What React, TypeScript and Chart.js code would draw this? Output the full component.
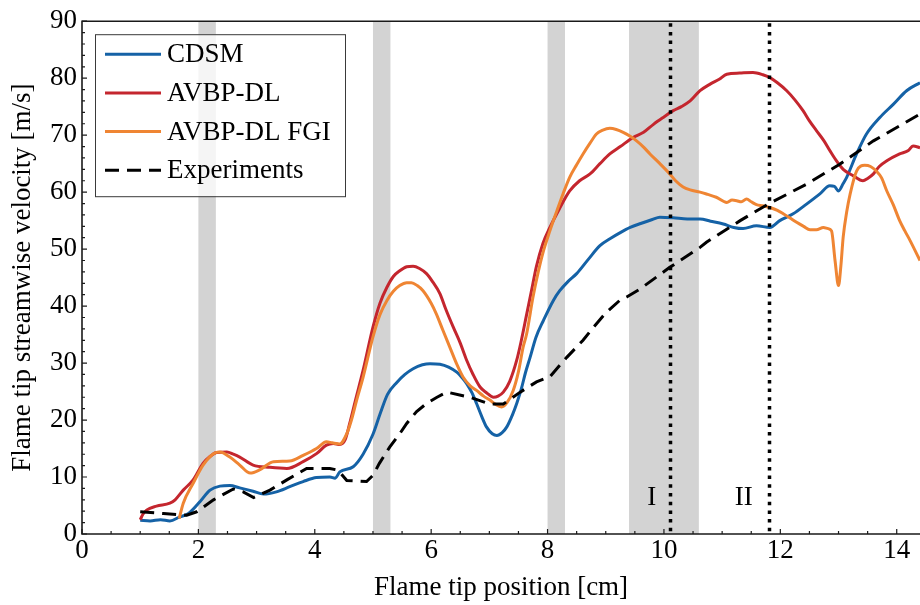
import { useEffect, useRef } from "react";
import { Chart, registerables } from "chart.js";

Chart.register(...registerables);

// ---------- data ----------
const seriesLabels = ["CDSM", "AVBP-DL", "AVBP-DL FGI", "Experiments"];

const cdsmX = [1.0, 1.17, 1.35, 1.51, 1.68, 1.83, 2.03, 2.2, 2.37, 2.54, 2.71, 2.94, 3.12, 3.34, 3.57, 3.8, 4.03, 4.26, 4.35, 4.43, 4.66, 4.83, 5.0, 5.12, 5.25, 5.41, 5.55, 5.69, 5.85, 5.98, 6.15, 6.3, 6.44, 6.55, 6.61, 6.7, 6.78, 6.87, 6.95, 7.05, 7.13, 7.22, 7.3, 7.4, 7.47, 7.55, 7.62, 7.7, 7.8, 7.93, 8.1, 8.21, 8.35, 8.5, 8.7, 8.9, 9.1, 9.25, 9.42, 9.6, 9.8, 9.93, 10.16, 10.4, 10.62, 10.8, 11.02, 11.2, 11.36, 11.59, 11.82, 11.99, 12.22, 12.45, 12.68, 12.85, 12.93, 13.0, 13.08, 13.14, 13.31, 13.48, 13.71, 13.94, 14.17, 14.4];
const cdsmY = [2.4, 2.3, 2.5, 2.3, 3.0, 3.6, 5.7, 7.7, 8.4, 8.5, 8.1, 7.5, 7.0, 7.4, 8.3, 9.2, 9.9, 10.0, 9.8, 10.9, 11.8, 14.0, 17.5, 21.0, 24.5, 26.6, 28.0, 29.0, 29.7, 29.9, 29.8, 29.3, 28.4, 27.2, 26.4, 24.8, 22.9, 20.6, 18.8, 17.6, 17.3, 17.8, 18.8, 21.0, 22.9, 25.5, 28.3, 31.0, 34.5, 37.5, 41.0, 42.7, 44.3, 45.7, 48.2, 50.6, 52.0, 52.9, 53.8, 54.5, 55.2, 55.6, 55.5, 55.3, 55.3, 54.9, 54.4, 53.8, 53.6, 54.1, 53.8, 55.0, 56.2, 57.9, 59.7, 61.1, 61.0, 60.2, 61.5, 62.6, 66.7, 70.2, 73.1, 75.4, 77.8, 79.2];

const avbpX = [1.0, 1.05, 1.11, 1.28, 1.51, 1.6, 1.74, 1.91, 2.08, 2.2, 2.31, 2.49, 2.6, 2.71, 2.94, 3.23, 3.52, 3.8, 4.03, 4.2, 4.32, 4.43, 4.52, 4.6, 4.7, 4.83, 5.0, 5.12, 5.24, 5.35, 5.46, 5.58, 5.69, 5.8, 5.92, 6.03, 6.15, 6.25, 6.38, 6.5, 6.61, 6.72, 6.84, 6.95, 7.07, 7.15, 7.24, 7.35, 7.47, 7.55, 7.64, 7.72, 7.81, 7.92, 8.04, 8.2, 8.38, 8.55, 8.73, 8.9, 9.07, 9.25, 9.47, 9.65, 9.82, 10.0, 10.16, 10.3, 10.45, 10.62, 10.8, 10.95, 11.08, 11.3, 11.53, 11.7, 11.82, 11.95, 12.11, 12.25, 12.39, 12.5, 12.62, 12.75, 12.85, 12.95, 13.08, 13.25, 13.42, 13.5, 13.6, 13.7, 13.83, 14.05, 14.2, 14.28, 14.4];
const avbpY = [2.5, 3.5, 4.2, 4.9, 5.4, 6.0, 7.7, 9.5, 12.4, 13.6, 14.3, 14.4, 14.0, 13.5, 12.1, 11.7, 11.5, 12.7, 14.1, 15.6, 15.9, 15.7, 16.5, 19.4, 23.5, 28.7, 36.3, 40.5, 43.3, 45.2, 46.2, 46.9, 47.0, 46.6, 45.7, 44.2, 42.2, 39.5, 36.3, 33.5, 30.5, 28.0, 25.8, 24.8, 24.0, 24.2, 24.9, 26.8, 30.5, 34.0, 38.5, 42.5, 47.0, 51.0, 53.8, 57.0, 60.2, 62.0, 63.2, 65.0, 66.7, 68.0, 69.6, 70.5, 71.9, 73.2, 74.3, 75.0, 76.0, 77.8, 79.0, 79.8, 80.7, 80.9, 81.0, 80.6, 80.1, 79.2, 77.8, 76.2, 74.3, 72.5, 70.8, 69.0, 67.3, 65.7, 64.0, 62.9, 62.0, 62.4, 63.2, 64.5, 65.5, 66.7, 67.3, 68.1, 67.8];

const fgiX = [1.67, 1.74, 1.91, 2.08, 2.26, 2.37, 2.54, 2.71, 2.89, 3.06, 3.29, 3.57, 3.8, 4.03, 4.2, 4.3, 4.43, 4.55, 4.63, 4.72, 4.83, 5.0, 5.12, 5.24, 5.35, 5.46, 5.58, 5.66, 5.76, 5.86, 6.0, 6.09, 6.2, 6.32, 6.44, 6.55, 6.67, 6.78, 6.9, 7.01, 7.1, 7.21, 7.3, 7.41, 7.5, 7.58, 7.64, 7.75, 7.84, 7.93, 8.04, 8.16, 8.27, 8.38, 8.5, 8.61, 8.73, 8.84, 8.95, 9.07, 9.18, 9.3, 9.42, 9.53, 9.65, 9.76, 9.93, 10.1, 10.2, 10.33, 10.45, 10.62, 10.75, 10.9, 11.08, 11.17, 11.25, 11.33, 11.42, 11.5, 11.59, 11.7, 11.82, 11.95, 12.05, 12.16, 12.28, 12.4, 12.51, 12.62, 12.74, 12.82, 12.88, 12.94, 13.0, 13.04, 13.08, 13.14, 13.2, 13.31, 13.45, 13.55, 13.65, 13.74, 13.83, 13.94, 14.05, 14.14, 14.23, 14.4];
const fgiY = [2.7, 5.4, 8.9, 12.1, 14.1, 14.4, 13.5, 12.1, 10.7, 11.3, 12.7, 12.8, 13.8, 15.0, 16.2, 16.0, 15.8, 17.6, 20.0, 23.5, 27.5, 34.6, 38.5, 41.0, 42.6, 43.6, 44.1, 44.1, 43.6, 42.7, 40.5, 38.6, 35.8, 32.8, 29.8, 27.5, 26.0, 25.2, 24.2, 23.5, 22.8, 22.3, 23.0, 25.2, 28.5, 32.8, 35.1, 41.6, 46.0, 49.7, 53.2, 56.7, 59.8, 62.6, 64.8, 66.7, 68.6, 70.2, 70.9, 71.2, 71.0, 70.5, 69.8, 69.0, 67.9, 66.7, 65.0, 63.2, 62.0, 60.9, 60.4, 60.0, 59.6, 59.1, 58.2, 58.6, 58.5, 58.3, 58.8, 58.3, 57.8, 57.6, 57.3, 56.8, 56.2, 55.5, 54.7, 54.0, 53.4, 53.4, 53.8, 53.6, 53.2, 48.0, 43.6, 47.0, 52.1, 56.5, 59.7, 63.7, 64.7, 64.5, 63.7, 62.5, 60.2, 57.8, 55.0, 53.2, 51.5, 48.0];

const expX = [1.0, 1.4, 1.8, 1.97, 2.26, 2.6, 2.77, 2.95, 3.23, 3.52, 3.86, 4.26, 4.4, 4.55, 4.89, 5.0, 5.11, 5.29, 5.46, 5.58, 5.75, 5.92, 6.1, 6.27, 6.49, 6.67, 7.01, 7.24, 7.53, 7.81, 8.04, 8.21, 8.33, 8.61, 8.79, 9.0, 9.24, 9.36, 9.59, 10.1, 10.62, 10.73, 11.31, 11.79, 12.45, 13.02, 13.6, 14.4];
const expY = [3.9, 3.6, 3.3, 3.9, 6.0, 7.9, 7.4, 6.4, 7.7, 9.5, 11.5, 11.5, 11.2, 9.4, 9.2, 10.3, 12.4, 15.3, 17.6, 19.4, 21.5, 22.9, 24.0, 24.9, 24.4, 24.0, 22.8, 22.8, 24.9, 26.7, 27.6, 29.6, 31.0, 34.0, 36.3, 38.8, 41.0, 41.6, 43.0, 46.8, 50.3, 51.2, 55.0, 57.9, 61.4, 64.9, 69.0, 73.7];

const xTickValues = [0, 2, 4, 6, 8, 10, 12, 14];
const yTickValues = [0, 10, 20, 30, 40, 50, 60, 70, 80, 90];

// shaded bands [start, end] and dotted marker lines
const bandStarts = [2.0, 5.0, 8.0, 9.4];
const bandEnds = [2.3, 5.3, 8.3, 10.6];
const markerX = [10.1, 11.8];
const regionLabels = ["I", "II"];
const regionLabelX = [9.79, 11.37];
const regionLabelY = [5.1, 5.1];

// ---------- styles ----------
const FONT = "'Liberation Serif', 'Times New Roman', Times, serif";
const colors = ["#1562a6", "#c4262e", "#ef8533", "#000000"];

const toPts = (xs: number[], ys: number[]) => xs.map((x, i) => ({ x, y: ys[i] }));

const decorPlugin = {
  id: "decor",
  beforeDatasetsDraw(chart: any) {
    const { ctx, chartArea: a, scales } = chart;
    const x = scales.x;
    ctx.save();
    ctx.beginPath();
    ctx.rect(a.left, a.top, a.right - a.left, a.bottom - a.top);
    ctx.clip();
    ctx.fillStyle = "#d3d3d3";
    bandStarts.forEach((s, i) => {
      const x0 = x.getPixelForValue(s);
      const x1 = x.getPixelForValue(bandEnds[i]);
      ctx.fillRect(x0, a.top, x1 - x0, a.bottom - a.top);
    });
    ctx.restore();
  },
  afterDatasetsDraw(chart: any) {
    const { ctx, chartArea: a, scales } = chart;
    const x = scales.x;
    const y = scales.y;
    ctx.save();
    // dotted markers
    ctx.strokeStyle = "#000";
    ctx.lineWidth = 3.5;
    ctx.setLineDash([3.5, 5.2]);
    markerX.forEach((v) => {
      const px = Math.round(x.getPixelForValue(v)) + 0.5;
      ctx.beginPath();
      ctx.moveTo(px, a.top + 2);
      ctx.lineTo(px, a.bottom);
      ctx.stroke();
    });
    ctx.setLineDash([]);
    // region labels
    ctx.fillStyle = "#000";
    ctx.font = `27px ${FONT}`;
    ctx.textAlign = "center";
    ctx.textBaseline = "alphabetic";
    regionLabels.forEach((t, i) => {
      ctx.fillText(t, x.getPixelForValue(regionLabelX[i]), y.getPixelForValue(regionLabelY[i]));
    });
    ctx.restore();
  },
  afterDraw(chart: any) {
    const { ctx, chartArea: a, scales, data } = chart;
    const x = scales.x;
    const y = scales.y;
    ctx.save();
    // frame
    ctx.strokeStyle = "#1a1a1a";
    ctx.lineWidth = 1.6;
    ctx.beginPath();
    ctx.moveTo(a.right + 2, a.top);
    ctx.lineTo(a.left, a.top);
    ctx.lineTo(a.left, a.bottom);
    ctx.lineTo(a.right + 2, a.bottom);
    ctx.stroke();
    // ticks (inward)
    ctx.lineWidth = 1.2;
    ctx.beginPath();
    for (let v = 0; v <= 14.4 + 1e-9; v += 0.5) {
      const px = x.getPixelForValue(v);
      const major = Math.abs(v / 2 - Math.round(v / 2)) < 1e-6;
      ctx.moveTo(px, a.bottom);
      ctx.lineTo(px, a.bottom - (major ? 5 : 3));
    }
    for (let v = 0; v <= 90 + 1e-9; v += 2) {
      const py = y.getPixelForValue(v);
      const major = v % 10 === 0;
      ctx.moveTo(a.left, py);
      ctx.lineTo(a.left + (major ? 5 : 3), py);
    }
    ctx.stroke();

    // legend
    const lx = a.left + 13;
    const ly = a.top + 13;
    const lw = 250;
    const lh = 162;
    ctx.fillStyle = "rgba(255,255,255,0.78)";
    ctx.fillRect(lx, ly, lw, lh);
    ctx.strokeStyle = "#3a3a3a";
    ctx.lineWidth = 1;
    ctx.strokeRect(lx + 0.5, ly + 0.5, lw, lh);
    data.datasets.forEach((ds: any, i: number) => {
      const cy = ly + 20 + i * 38.7;
      ctx.strokeStyle = ds.borderColor;
      ctx.lineWidth = 3;
      ctx.setLineDash(ds.borderDash || []);
      ctx.beginPath();
      ctx.moveTo(lx + 10, cy);
      ctx.lineTo(lx + 66, cy);
      ctx.stroke();
      ctx.setLineDash([]);
      ctx.fillStyle = "#000";
      ctx.font = `27px ${FONT}`;
      ctx.textAlign = "left";
      ctx.textBaseline = "middle";
      ctx.fillText(ds.label, lx + 72, cy + 1);
    });
    ctx.restore();
  },
};

export default function App() {
  const ref = useRef<HTMLCanvasElement | null>(null);

  useEffect(() => {
    if (!ref.current) return;
    const lineBase = {
      borderWidth: 3,
      pointRadius: 0,
      fill: false,
      cubicInterpolationMode: "monotone" as const,
    };
    const chart = new Chart(ref.current, {
      type: "line",
      data: {
        datasets: [
          { ...lineBase, label: seriesLabels[0], data: toPts(cdsmX, cdsmY), borderColor: colors[0], order: 3 },
          { ...lineBase, label: seriesLabels[1], data: toPts(avbpX, avbpY), borderColor: colors[1], order: 2 },
          { ...lineBase, label: seriesLabels[2], data: toPts(fgiX, fgiY), borderColor: colors[2], order: 1 },
          {
            ...lineBase,
            label: seriesLabels[3],
            data: toPts(expX, expY),
            borderColor: colors[3],
            borderDash: [14, 8],
            cubicInterpolationMode: "default" as const,
            tension: 0,
            order: 0,
          },
        ],
      },
      options: {
        responsive: false,
        animation: false,
        devicePixelRatio: 1,
        layout: { padding: { top: 20, right: 0, left: 0, bottom: 0 } },
        plugins: {
          legend: { display: false },
          tooltip: { enabled: false },
        },
        scales: {
          x: {
            type: "linear",
            min: 0,
            max: 14.4,
            grid: { display: false, drawTicks: false },
            border: { display: false },
            afterBuildTicks: (s: any) => {
              s.ticks = xTickValues.map((v) => ({ value: v }));
            },
            afterFit: (s: any) => {
              s.height = 71;
            },
            ticks: {
              includeBounds: false,
              padding: 1,
              color: "#000",
              font: { family: FONT, size: 27 },
              maxRotation: 0,
              autoSkip: false,
            },
            title: {
              display: true,
              text: "Flame tip position [cm]",
              color: "#000",
              font: { family: FONT, size: 27 },
              padding: { top: 0, bottom: 1 },
            },
          },
          y: {
            type: "linear",
            min: 0,
            max: 90,
            grid: { display: false, drawTicks: false },
            border: { display: false },
            afterBuildTicks: (s: any) => {
              s.ticks = yTickValues.map((v) => ({ value: v }));
            },
            afterFit: (s: any) => {
              s.width = 82;
            },
            ticks: {
              includeBounds: false,
              padding: 5,
              color: "#000",
              font: { family: FONT, size: 27 },
              autoSkip: false,
            },
            title: {
              display: true,
              text: "Flame tip streamwise velocity [m/s]",
              color: "#000",
              font: { family: FONT, size: 27 },
              padding: { top: 7, bottom: 0 },
            },
          },
        },
      },
      plugins: [decorPlugin],
    });
    return () => chart.destroy();
  }, []);

  return (
    <div style={{ position: "fixed", left: 0, top: 0, width: 920, height: 605, background: "#fff" }}>
      <canvas ref={ref} width={920} height={605} style={{ display: "block", width: 920, height: 605 }} />
    </div>
  );
}
